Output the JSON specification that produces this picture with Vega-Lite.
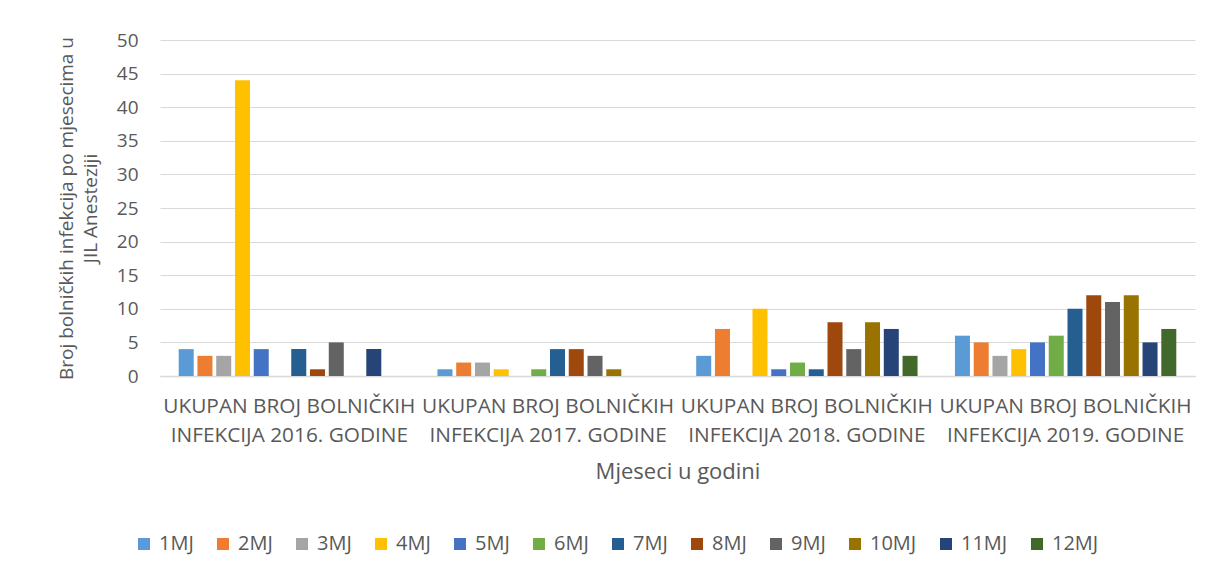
{
  "$schema": "https://vega.github.io/schema/vega-lite/v6.json",
  "width": 1035,
  "height": 336,
  "autosize": "none",
  "padding": {"left": 160, "top": 40, "right": 20, "bottom": 202},
  "background": "white",
  "config": {
    "font": "Open Sans",
    "view": {"stroke": null},
    "axis": {"labelColor": "#595959", "titleColor": "#595959", "titleFontWeight": "normal"}
  },
  "data": {
    "values": [
      {"godina": "2016", "mjesec": "1MJ", "broj": 4},
      {"godina": "2016", "mjesec": "2MJ", "broj": 3},
      {"godina": "2016", "mjesec": "3MJ", "broj": 3},
      {"godina": "2016", "mjesec": "4MJ", "broj": 44},
      {"godina": "2016", "mjesec": "5MJ", "broj": 4},
      {"godina": "2016", "mjesec": "6MJ", "broj": 0},
      {"godina": "2016", "mjesec": "7MJ", "broj": 4},
      {"godina": "2016", "mjesec": "8MJ", "broj": 1},
      {"godina": "2016", "mjesec": "9MJ", "broj": 5},
      {"godina": "2016", "mjesec": "10MJ", "broj": 0},
      {"godina": "2016", "mjesec": "11MJ", "broj": 4},
      {"godina": "2016", "mjesec": "12MJ", "broj": 0},
      {"godina": "2017", "mjesec": "1MJ", "broj": 1},
      {"godina": "2017", "mjesec": "2MJ", "broj": 2},
      {"godina": "2017", "mjesec": "3MJ", "broj": 2},
      {"godina": "2017", "mjesec": "4MJ", "broj": 1},
      {"godina": "2017", "mjesec": "5MJ", "broj": 0},
      {"godina": "2017", "mjesec": "6MJ", "broj": 1},
      {"godina": "2017", "mjesec": "7MJ", "broj": 4},
      {"godina": "2017", "mjesec": "8MJ", "broj": 4},
      {"godina": "2017", "mjesec": "9MJ", "broj": 3},
      {"godina": "2017", "mjesec": "10MJ", "broj": 1},
      {"godina": "2017", "mjesec": "11MJ", "broj": 0},
      {"godina": "2017", "mjesec": "12MJ", "broj": 0},
      {"godina": "2018", "mjesec": "1MJ", "broj": 3},
      {"godina": "2018", "mjesec": "2MJ", "broj": 7},
      {"godina": "2018", "mjesec": "3MJ", "broj": 0},
      {"godina": "2018", "mjesec": "4MJ", "broj": 10},
      {"godina": "2018", "mjesec": "5MJ", "broj": 1},
      {"godina": "2018", "mjesec": "6MJ", "broj": 2},
      {"godina": "2018", "mjesec": "7MJ", "broj": 1},
      {"godina": "2018", "mjesec": "8MJ", "broj": 8},
      {"godina": "2018", "mjesec": "9MJ", "broj": 4},
      {"godina": "2018", "mjesec": "10MJ", "broj": 8},
      {"godina": "2018", "mjesec": "11MJ", "broj": 7},
      {"godina": "2018", "mjesec": "12MJ", "broj": 3},
      {"godina": "2019", "mjesec": "1MJ", "broj": 6},
      {"godina": "2019", "mjesec": "2MJ", "broj": 5},
      {"godina": "2019", "mjesec": "3MJ", "broj": 3},
      {"godina": "2019", "mjesec": "4MJ", "broj": 4},
      {"godina": "2019", "mjesec": "5MJ", "broj": 5},
      {"godina": "2019", "mjesec": "6MJ", "broj": 6},
      {"godina": "2019", "mjesec": "7MJ", "broj": 10},
      {"godina": "2019", "mjesec": "8MJ", "broj": 12},
      {"godina": "2019", "mjesec": "9MJ", "broj": 11},
      {"godina": "2019", "mjesec": "10MJ", "broj": 12},
      {"godina": "2019", "mjesec": "11MJ", "broj": 5},
      {"godina": "2019", "mjesec": "12MJ", "broj": 7}
    ]
  },
  "mark": {"type": "bar"},
  "encoding": {
    "x": {
      "field": "godina",
      "type": "nominal",
      "sort": null,
      "scale": {"paddingInner": 0.13, "paddingOuter": 0.065},
      "axis": {
        "title": "Mjeseci u godini",
        "titleFontSize": 22,
        "titlePadding": 17,
        "labelAngle": 0,
        "labelFontSize": 20.8,
        "labelPadding": 20,
        "labelLineHeight": 29,
        "labelLimit": 0,
        "labelOverlap": false,
        "labelExpr": "['UKUPAN BROJ BOLNIČKIH', 'INFEKCIJA ' + datum.label + '. GODINE']",
        "ticks": false,
        "domainColor": "#d9d9d9",
        "domainWidth": 1.5
      }
    },
    "xOffset": {
      "field": "mjesec",
      "type": "nominal",
      "sort": ["1MJ","2MJ","3MJ","4MJ","5MJ","6MJ","7MJ","8MJ","9MJ","10MJ","11MJ","12MJ"],
      "scale": {"paddingInner": 0.2, "paddingOuter": 0.1}
    },
    "y": {
      "field": "broj",
      "type": "quantitative",
      "scale": {"domain": [0, 50], "nice": false},
      "axis": {
        "values": [0,5,10,15,20,25,30,35,40,45,50],
        "title": ["Broj bolničkih infekcija po mjesecima u", "JIL Anesteziji"],
        "titleFontSize": 19,
        "titleLineHeight": 24,
        "titlePadding": 16,
        "labelFontSize": 19,
        "labelPadding": 22,
        "ticks": false,
        "domain": false,
        "gridColor": "#d9d9d9",
        "gridWidth": 1.2
      }
    },
    "color": {
      "field": "mjesec",
      "type": "nominal",
      "sort": ["1MJ","2MJ","3MJ","4MJ","5MJ","6MJ","7MJ","8MJ","9MJ","10MJ","11MJ","12MJ"],
      "scale": {
        "domain": ["1MJ","2MJ","3MJ","4MJ","5MJ","6MJ","7MJ","8MJ","9MJ","10MJ","11MJ","12MJ"],
        "range": ["#5B9BD5","#ED7D31","#A5A5A5","#FFC000","#4472C4","#70AD47","#255E91","#9E480E","#636363","#997300","#264478","#43682B"]
      },
      "legend": {
        "orient": "none",
        "legendX": -26,
        "legendY": 494,
        "direction": "horizontal",
        "title": null,
        "symbolType": "square",
        "symbolSize": 144,
        "symbolStrokeWidth": 0,
        "labelFontSize": 20,
        "labelColor": "#595959",
        "labelOffset": 5,
        "columnPadding": 19
      }
    }
  }
}
